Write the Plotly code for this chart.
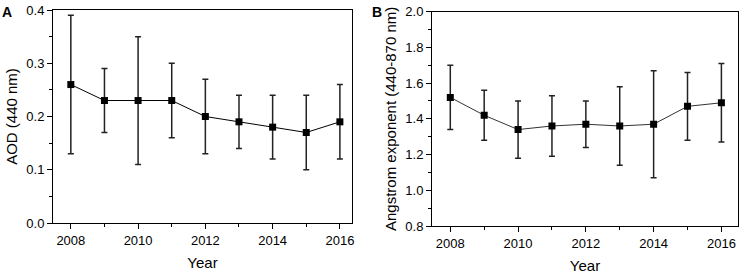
import plotly.graph_objects as go

years = [2008, 2009, 2010, 2011, 2012, 2013, 2014, 2015, 2016]
aod_mean = [0.26, 0.23, 0.23, 0.23, 0.20, 0.19, 0.18, 0.17, 0.19]
aod_upper = [0.39, 0.29, 0.35, 0.30, 0.27, 0.24, 0.24, 0.24, 0.26]
aod_lower = [0.13, 0.17, 0.11, 0.16, 0.13, 0.14, 0.12, 0.10, 0.12]
ae_mean = [1.52, 1.42, 1.34, 1.36, 1.37, 1.36, 1.37, 1.47, 1.49]
ae_upper = [1.70, 1.56, 1.50, 1.53, 1.50, 1.58, 1.67, 1.66, 1.71]
ae_lower = [1.34, 1.28, 1.18, 1.19, 1.24, 1.14, 1.07, 1.28, 1.27]
year_ticks = [2008, 2010, 2012, 2014, 2016]

W, H = 743, 278
FONT = "Liberation Sans, Arial, sans-serif"

def err(mean, up, lo):
    return dict(type="data", symmetric=False,
                array=[u - m for u, m in zip(up, mean)],
                arrayminus=[m - l for m, l in zip(mean, lo)],
                color="#222", thickness=1.5, width=3)

fig = go.Figure()
fig.add_trace(go.Scatter(x=years, y=aod_mean, mode="lines+markers",
                         line=dict(color="black", width=1),
                         marker=dict(symbol="square", size=7, color="black"),
                         error_y=err(aod_mean, aod_upper, aod_lower),
                         xaxis="x", yaxis="y", showlegend=False))
fig.add_trace(go.Scatter(x=years, y=ae_mean, mode="lines+markers",
                         line=dict(color="#333", width=1),
                         marker=dict(symbol="square", size=7, color="black"),
                         error_y=err(ae_mean, ae_upper, ae_lower),
                         xaxis="x2", yaxis="y2", showlegend=False))

def xa(domain, rng, anchor):
    return dict(domain=domain, range=rng, anchor=anchor, tickvals=year_ticks,
                ticks="outside", ticklen=5, tickwidth=1, tickcolor="black",
                minor=dict(dtick=1, tick0=2009, ticks="outside", ticklen=3, tickcolor="black", showgrid=False),
                showline=True, linecolor="black", linewidth=1, mirror=True,
                showgrid=False, zeroline=False, automargin=False,
                tickfont=dict(family=FONT, size=13, color="black"),
                title=dict(text="Year", font=dict(family=FONT, size=15, color="black"), standoff=10))

def ya(domain, rng, anchor, dtick, minor, fmt, title):
    return dict(domain=domain, range=rng, anchor=anchor, dtick=dtick, tickformat=fmt,
                ticks="outside", ticklen=5, tickwidth=1, tickcolor="black",
                minor=dict(dtick=minor, ticks="outside", ticklen=3, tickcolor="black", showgrid=False),
                showline=True, linecolor="black", linewidth=1, mirror=True,
                showgrid=False, zeroline=False, automargin=False,
                tickfont=dict(family=FONT, size=13, color="black"),
                title=dict(text=title, font=dict(family=FONT, size=15, color="black"), standoff=5))

fig.update_layout(
    width=W, height=H, margin=dict(l=0, r=0, t=0, b=0),
    paper_bgcolor="white", plot_bgcolor="white",
    xaxis=xa([53 / W, 352 / W], [2007.47, 2016.36], "y"),
    yaxis=ya([1 - 223 / H, 1 - 10 / H], [0, 0.4], "x", 0.1, 0.05, ".1f", "AOD (440 nm)"),
    xaxis2=xa([432 / W, 738 / W], [2007.46, 2016.49], "y2"),
    yaxis2=ya([1 - 226 / H, 1 - 11.7 / H], [0.8, 2.0], "x2", 0.2, 0.1, ".1f",
              "Angstrom exponent (440-870 nm)"),
    annotations=[
        dict(text="<b>A</b>", x=0, y=1 - 2 / H, xref="paper", yref="paper",
             xanchor="left", yanchor="top", showarrow=False,
             font=dict(family=FONT, size=14, color="black")),
        dict(text="<b>B</b>", x=370 / W, y=1 - 2 / H, xref="paper", yref="paper",
             xanchor="left", yanchor="top", showarrow=False,
             font=dict(family=FONT, size=14, color="black")),
    ],
)

fig.write_html("out.html", config={"displayModeBar": False},
               post_script="document.body.style.margin='0px';document.body.style.overflow='hidden';")
